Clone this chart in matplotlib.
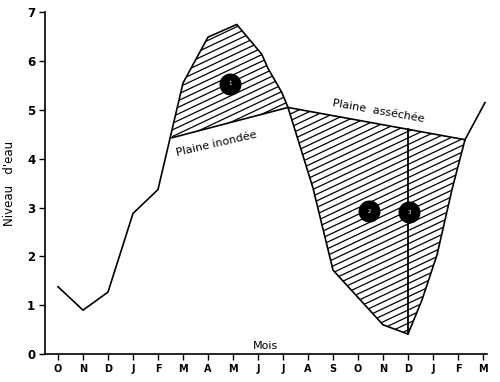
import numpy as np
import matplotlib
matplotlib.use('Agg')
import matplotlib.pyplot as plt
from matplotlib.patches import Polygon

# Mois (octobre -> mars de l'année d'après)
mois = ['O', 'N', 'D', 'J', 'F', 'M', 'A', 'M', 'J', 'J', 'A', 'S', 'O', 'N', 'D', 'J', 'F', 'M']

# Niveau d'eau du fleuve (x en mois depuis octobre)
niveau_x = [0, 1, 2, 3, 4, 5, 6, 7.15, 8.15, 8.4, 8.95, 9.2, 10.2, 11, 13, 14, 14.56, 15.16, 15.76, 16.28, 17.08]
niveau_y = [1.38, 0.90, 1.27, 2.88, 3.37, 5.55, 6.49, 6.75, 6.14, 5.85, 5.36, 5.05, 3.40, 1.72, 0.60, 0.41, 1.11, 2.03, 3.37, 4.39, 5.15]

# Plaine inondée / plaine asséchée (segments)
inondee_x = [4.56, 9.2]
inondee_y = [4.43, 5.05]
assechee_x = [9.2, 16.28]
assechee_y = [5.05, 4.39]

# Repère vertical en décembre
repere_x = 14

# Cercles numérotés
cercles_x = [6.88, 12.44, 14.04]
cercles_y = [5.54, 2.92, 2.90]
cercles_txt = ['1', '2', '3']

niveau_x = np.array(niveau_x)
niveau_y = np.array(niveau_y)


def zone(x0, x1, ligne_x, ligne_y):
    # courbe entre x0 et x1 puis retour par le segment de plaine
    inside = (niveau_x > x0) & (niveau_x < x1)
    xs = np.concatenate([[x0], niveau_x[inside], [x1]])
    ys = np.interp(xs, niveau_x, niveau_y)
    pts = list(zip(xs, ys)) + list(zip(ligne_x[::-1], ligne_y[::-1]))
    return pts


fig = plt.figure(figsize=(5, 3.82), dpi=100)
ax = fig.add_axes([0.09, 0.073, 0.884, 0.895])

ax.set_xlim(-0.52, 17.16)
ax.set_ylim(0, 7)

# Zones hachurées
for pts in [zone(inondee_x[0], inondee_x[1], inondee_x, inondee_y),
            zone(assechee_x[0], assechee_x[1], assechee_x, assechee_y)]:
    poly = Polygon(pts, closed=True, facecolor='none', edgecolor='none')
    ax.add_patch(poly)
    pente = 0.47 * 25 / 48.7
    hx = np.array([-1, 18])
    for c in np.arange(-6, 8, 6.6 / 48.7):
        hl, = ax.plot(hx, pente * hx + c, color='black', lw=0.9)
        hl.set_clip_path(poly)

ax.plot(niveau_x, niveau_y, color='black', lw=1.2)
ax.plot(inondee_x, inondee_y, color='black', lw=1.2)
ax.plot(assechee_x, assechee_y, color='black', lw=1.2)

y_rep = np.interp(repere_x, assechee_x, assechee_y)
y_bas = np.interp(repere_x, niveau_x, niveau_y)
ax.plot([repere_x, repere_x], [y_bas, y_rep], color='black', lw=1.3)

ax.scatter(cercles_x, cercles_y, s=220, color='black', zorder=5)
for cx, cy, t in zip(cercles_x, cercles_y, cercles_txt):
    ax.text(cx, cy, t, color='white', fontsize=4, ha='center', va='center', zorder=6)

ax.text(6.35, 4.3, 'Plaine inondée', fontsize=8, rotation=13, ha='center', va='center')
ax.text(12.8, 4.97, 'Plaine  asséchée', fontsize=8, rotation=-10, ha='center', va='center')
ax.text(7.8, 0.07, 'Mois', fontsize=8, ha='left', va='bottom')

ax.set_xticks(range(len(mois)))
ax.set_xticklabels(mois, fontsize=7, fontweight='bold')
ax.set_yticks(range(8))
ax.set_yticklabels([str(i) for i in range(8)], fontsize=8.5, fontweight='bold')
ax.tick_params(length=4, width=1, pad=3)
ax.set_ylabel("Niveau   d'eau", fontsize=8.5)
ax.yaxis.set_label_coords(-0.065, 0.5)

ax.spines['top'].set_visible(False)
ax.spines['right'].set_visible(False)
ax.spines['left'].set_linewidth(1.2)
ax.spines['bottom'].set_linewidth(1.2)

plt.savefig('out.png', dpi=100)
plt.close()
